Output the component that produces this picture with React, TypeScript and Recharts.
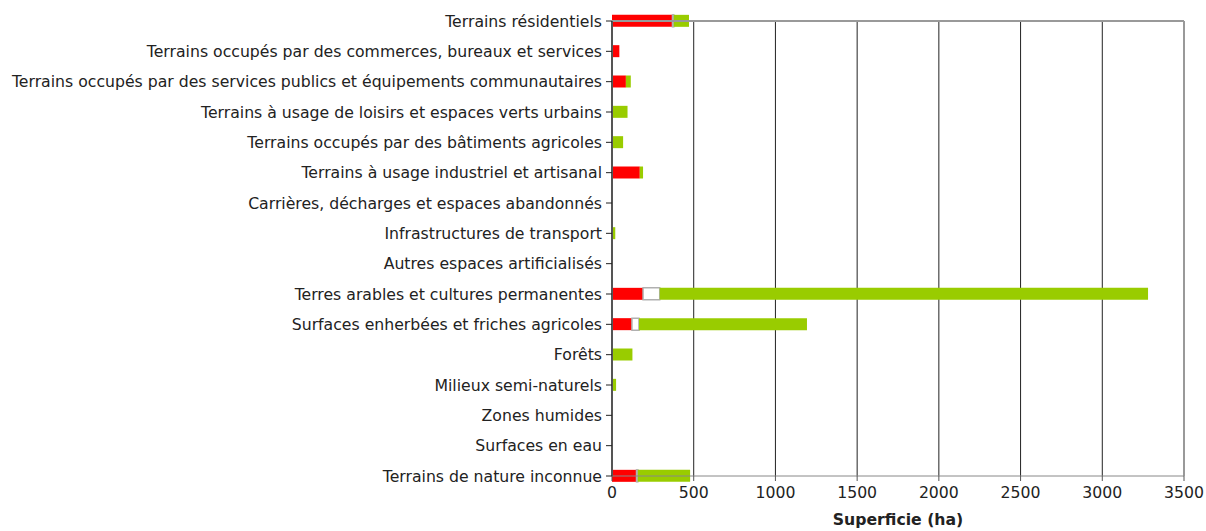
import React from 'react';
import {
  BarChart,
  Bar,
  XAxis,
  YAxis,
  CartesianGrid,
  ReferenceLine,
} from 'recharts';

const categories = [
  'Terrains résidentiels',
  'Terrains occupés par des commerces, bureaux et services',
  'Terrains occupés par des services publics et équipements communautaires',
  'Terrains à usage de loisirs et espaces verts urbains',
  'Terrains occupés par des bâtiments agricoles',
  'Terrains à usage industriel et artisanal',
  'Carrières, décharges et espaces abandonnés',
  'Infrastructures de transport',
  'Autres espaces artificialisés',
  'Terres arables et cultures permanentes',
  'Surfaces enherbées et friches agricoles',
  'Forêts',
  'Milieux semi-naturels',
  'Zones humides',
  'Surfaces en eau',
  'Terrains de nature inconnue',
];

const redValues = [370, 45, 85, 0, 0, 170, 0, 0, 0, 190, 122, 0, 0, 0, 0, 150];
const whiteValues = [8, 0, 0, 0, 0, 0, 0, 0, 0, 102, 43, 0, 0, 0, 0, 8];
const greenValues = [93, 0, 30, 95, 68, 20, 0, 20, 0, 2988, 1028, 125, 25, 0, 0, 320];

const xTicks = [0, 500, 1000, 1500, 2000, 2500, 3000, 3500];

const data = categories.map((name, i) => ({
  idx: i,
  name,
  red: redValues[i],
  white: whiteValues[i],
  green: greenValues[i],
}));

const FONT = 'DejaVu Sans, Verdana, sans-serif';

export default function App() {
  return (
    <div style={{ position: 'absolute', left: 0, top: 0, width: 1206, height: 531, background: '#fff' }}>
      <BarChart
        width={1206}
        height={531}
        data={data}
        layout="vertical"
        margin={{ top: 21, right: 22, bottom: 0, left: 0 }}
      >
        <CartesianGrid horizontal={false} vertical stroke="#222" />
        <XAxis
          type="number"
          domain={[0, 3500]}
          ticks={xTicks}
          height={55}
          stroke="#888"
          tickLine={{ stroke: '#555' }}
          tickSize={5}
          tickMargin={6}
          tick={{ fill: '#222', fontSize: 15.7, fontFamily: FONT }}
          label={{
            value: 'Superficie (ha)',
            position: 'insideBottom',
            offset: 6,
            style: { fill: '#222', fontSize: 15.7, fontWeight: 'bold', fontFamily: FONT },
          }}
        />
        <YAxis
          type="number"
          dataKey="idx"
          domain={[0, 15]}
          ticks={categories.map((_, i) => i)}
          width={612}
          interval={0}
          stroke="#555"
          strokeWidth={2}
          tickSize={6}
          tickMargin={4}
          tickLine={{ stroke: '#222', strokeWidth: 1 }}
          tickFormatter={(v: number) => categories[v]}
          tick={{ fill: '#222', fontSize: 15.7, fontFamily: FONT }}
        />
        <ReferenceLine y={0} stroke="#999" strokeWidth={2} />
        <ReferenceLine x={3500} stroke="#999" strokeWidth={2} />
        <Bar dataKey="red" stackId="a" fill="#FF0000" barSize={12} isAnimationActive={false} />
        <Bar dataKey="white" stackId="a" fill="#FFFFFF" stroke="#B0B0B0" strokeWidth={1.5} barSize={12} isAnimationActive={false} />
        <Bar dataKey="green" stackId="a" fill="#99CC00" barSize={12} isAnimationActive={false} />
      </BarChart>
    </div>
  );
}
